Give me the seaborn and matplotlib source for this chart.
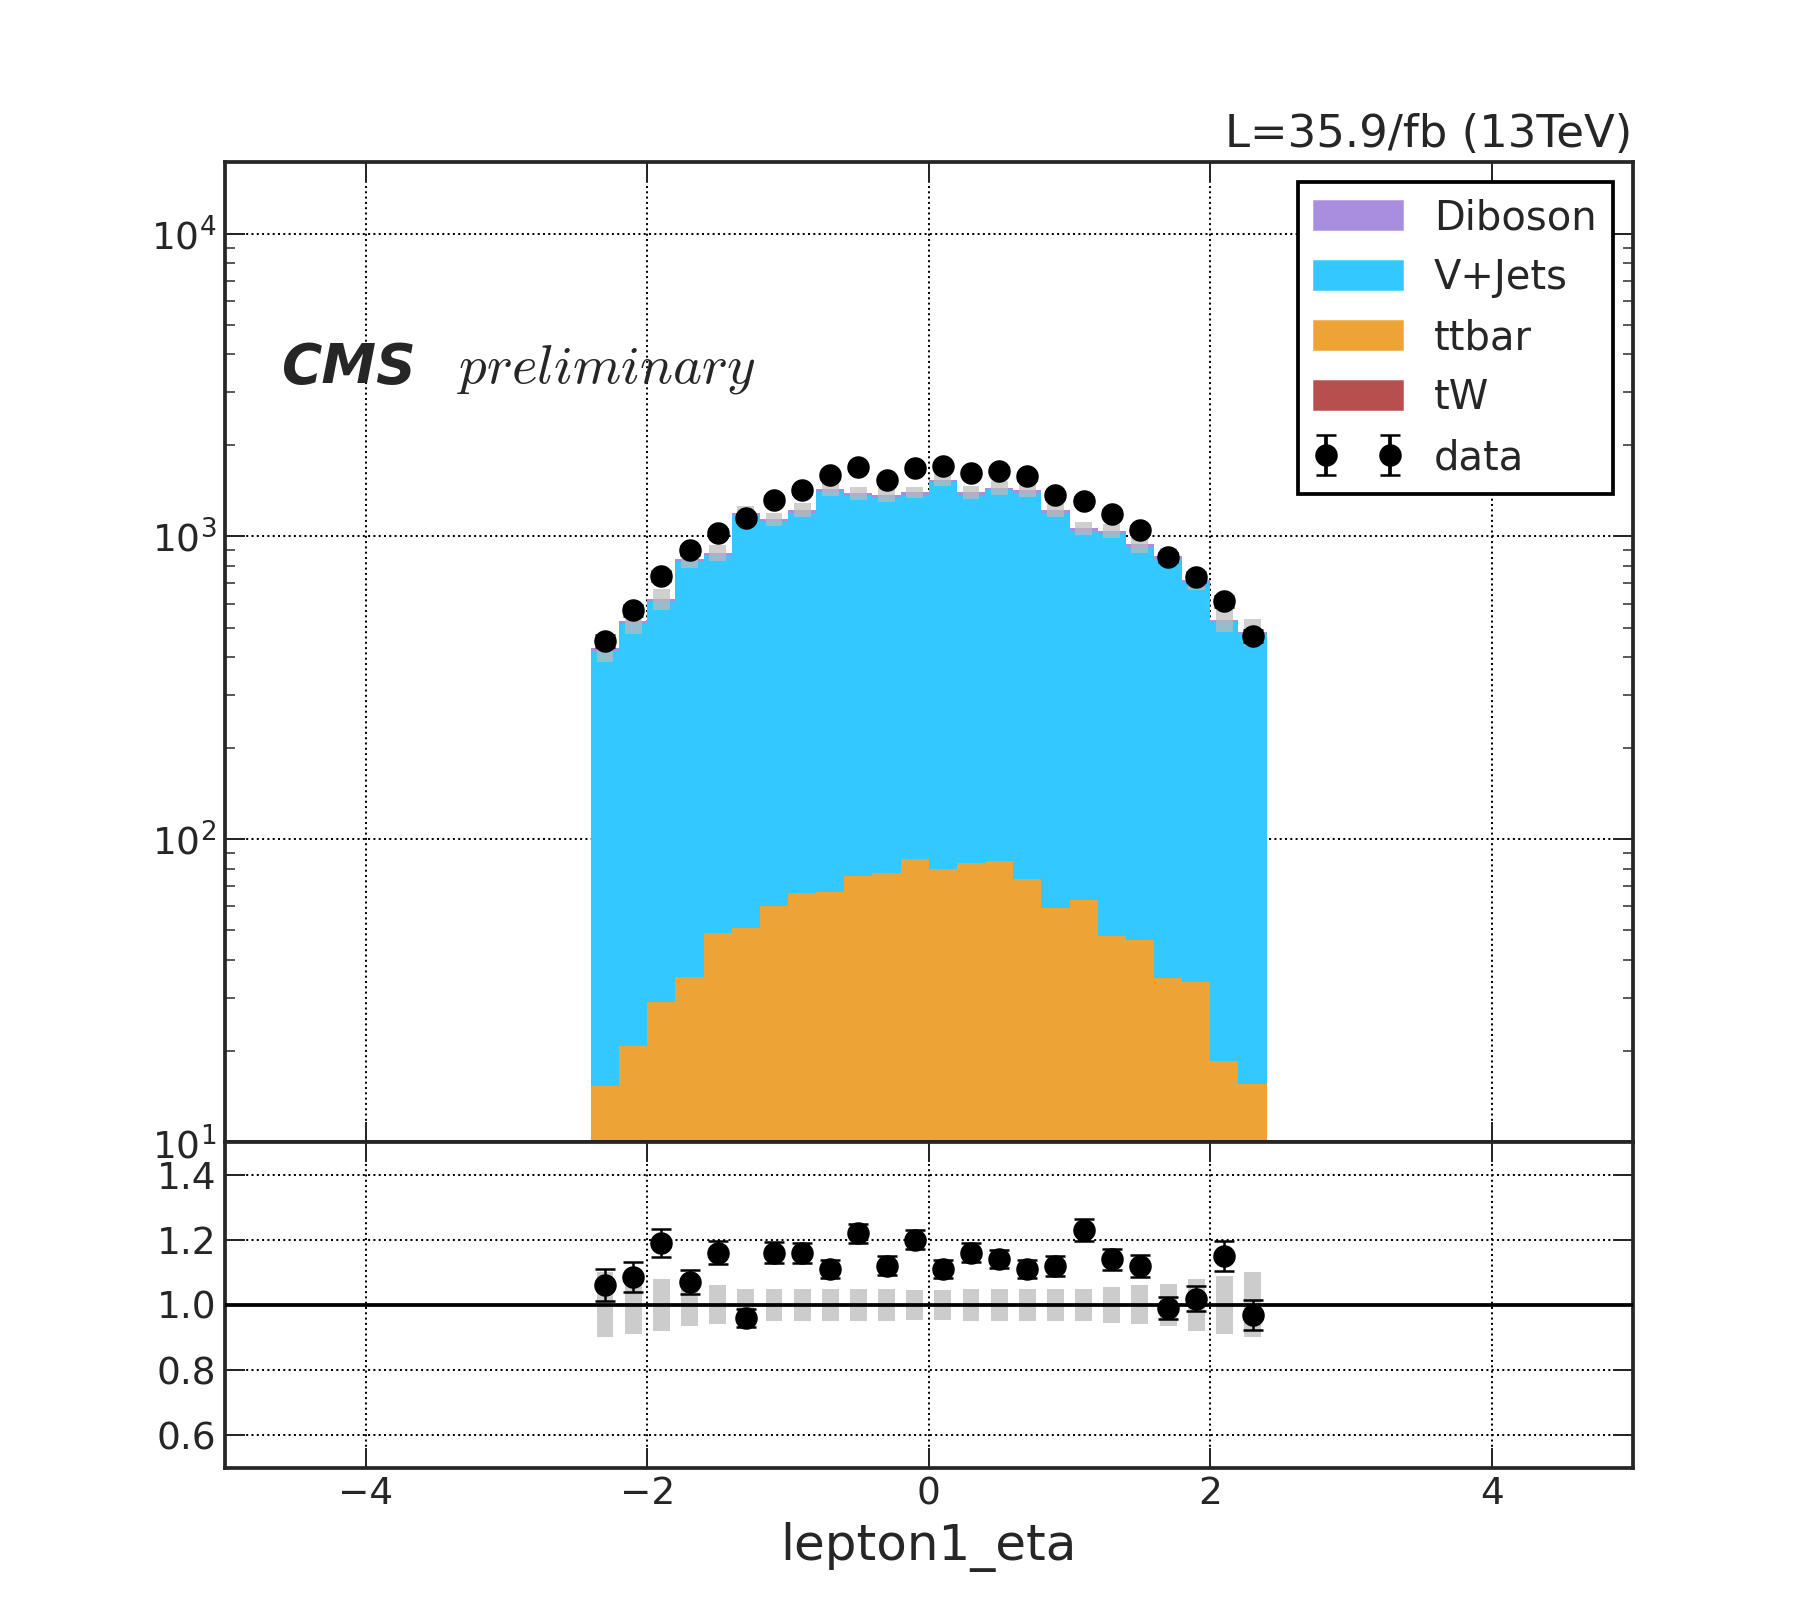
import numpy as np
import pandas as pd
import matplotlib
matplotlib.use("Agg")
import matplotlib.pyplot as plt
import seaborn as sns
from matplotlib.patches import Patch

sns.set_style("ticks")
plt.rcParams['font.family'] = ['DejaVu Sans']
plt.rcParams['mathtext.fontset'] = 'cm'

edges = [round(-2.4 + 0.2 * i, 2) for i in range(25)]
centers = [round(-2.3 + 0.2 * i, 2) for i in range(24)]
data = [453, 570, 741, 900, 1026, 1151, 1324, 1421, 1593, 1694, 1538, 1679,
        1709, 1622, 1651, 1579, 1371, 1312, 1191, 1054, 853, 735, 611, 470]
mc_total = [427, 525, 623, 841, 884, 1199, 1141, 1225, 1435, 1389, 1373, 1399,
            1540, 1398, 1448, 1422, 1224, 1067, 1045, 941, 862, 721, 531, 485]
ttbar = [13.8, 18.7, 26, 31.6, 44.6, 46, 54.6, 60.6, 60.6, 68.5, 70.3, 78.8,
         72.3, 76.2, 77.5, 67.3, 53.1, 57.5, 43, 41.9, 31.3, 30.8, 16.5, 14.1]
tw = [1.5, 2, 3, 3.5, 4.5, 5, 5.5, 6, 6.5, 7, 7, 7.5,
      7.5, 7, 7, 6.5, 6, 5.5, 5, 4.5, 3.5, 3, 2, 1.5]
diboson = [9, 11, 13, 17, 18, 24, 23, 25, 29, 28, 28, 28,
           31, 28, 29, 28, 25, 21, 21, 19, 17, 15, 11, 10]
rel_unc = [0.10, 0.09, 0.08, 0.065, 0.06, 0.05, 0.05, 0.05, 0.05, 0.05, 0.05, 0.045,
           0.045, 0.05, 0.05, 0.05, 0.05, 0.05, 0.055, 0.06, 0.065, 0.08, 0.09, 0.10]

cx = np.array(centers)
data_a = np.array(data, float); mc = np.array(mc_total, float)
tt = np.array(ttbar); tw_a = np.array(tw); db = np.array(diboson)
ratio = data_a / mc
unc = np.array(rel_unc)

colors = {"Diboson": "#a98ee0", "V+Jets": "#33c8ff", "ttbar": "#eea435", "tW": "#b84f4f"}

fig = plt.figure(figsize=(10, 9), dpi=180)
ax = fig.add_axes([0.125, 0.295, 0.782, 0.605])
rax = fig.add_axes([0.125, 0.094, 0.782, 0.201], sharex=ax)

layers = [("Diboson", mc), ("V+Jets", mc - db), ("ttbar", tt + tw_a), ("tW", tw_a)]
for name, vals in layers:
    df = pd.DataFrame({"x": cx, "w": vals})
    sns.histplot(x=df["x"], weights=df["w"], bins=edges, element="bars",
                 color=colors[name], alpha=1, linewidth=0, ax=ax, zorder=2)

ax.bar(cx, 2 * unc * mc, bottom=mc * (1 - unc), width=0.12,
       color="#bbbbbb", alpha=0.7, linewidth=0, zorder=3)
ax.errorbar(cx, data_a, yerr=np.sqrt(data_a), fmt="o", color="black", ms=8,
            capsize=4, elinewidth=1, zorder=5)

ax.set_yscale("log")
ax.set_ylim(10, 17250)
ax.set_xlim(-5, 5)
ax.set_ylabel(""); ax.set_xlabel("")
ax.grid(True, linestyle=":", color="black", linewidth=0.8)
ax.tick_params(which="both", direction="in", top=True, right=True, labelbottom=False, labelsize=15)
ax.tick_params(which="major", length=8); ax.tick_params(which="minor", length=4)
ax.set_title("L=35.9/fb (13TeV)", loc="right", fontsize=18)
ax.text(0.04, 0.775, "CMS", transform=ax.transAxes, fontsize=22, fontweight="bold",
        fontstyle="italic")
ax.text(0.165, 0.775, r"$preliminary$", transform=ax.transAxes, fontsize=22)

handles = [Patch(color=colors[n]) for n in ["Diboson", "V+Jets", "ttbar", "tW"]]
dh = ax.errorbar([np.nan], [np.nan], yerr=[np.nan], fmt="o", color="black", ms=8, capsize=4)
leg = ax.legend(handles + [dh], ["Diboson", "V+Jets", "ttbar", "tW", "data"],
                loc="upper right", fontsize=16, frameon=True, fancybox=False,
                edgecolor="black", framealpha=1, handlelength=2.2, numpoints=2)
leg.get_frame().set_linewidth(1.5)

rax.bar(cx, 2 * unc, bottom=1 - unc, width=0.12, color="#cccccc", linewidth=0, zorder=2)
rax.axhline(1.0, color="black", linewidth=1.5, zorder=3)
rax.errorbar(cx, ratio, yerr=np.sqrt(data_a) / mc, fmt="o", color="black",
             ms=8, capsize=4, elinewidth=1, zorder=5)
rax.set_ylim(0.5, 1.5)
rax.set_yticks([0.6, 0.8, 1.0, 1.2, 1.4])
rax.set_xticks([-4, -2, 0, 2, 4])
rax.grid(True, linestyle=":", color="black", linewidth=0.8)
rax.tick_params(which="both", direction="in", top=True, right=True, labelsize=15, length=8)
rax.set_xlabel("lepton1_eta", fontsize=20)
rax.set_xticklabels(["\u22124", "\u22122", "0", "2", "4"])
for a in (ax, rax):
    for s in a.spines.values():
        s.set_linewidth(1.5)

fig.savefig("out.png", dpi=180)
